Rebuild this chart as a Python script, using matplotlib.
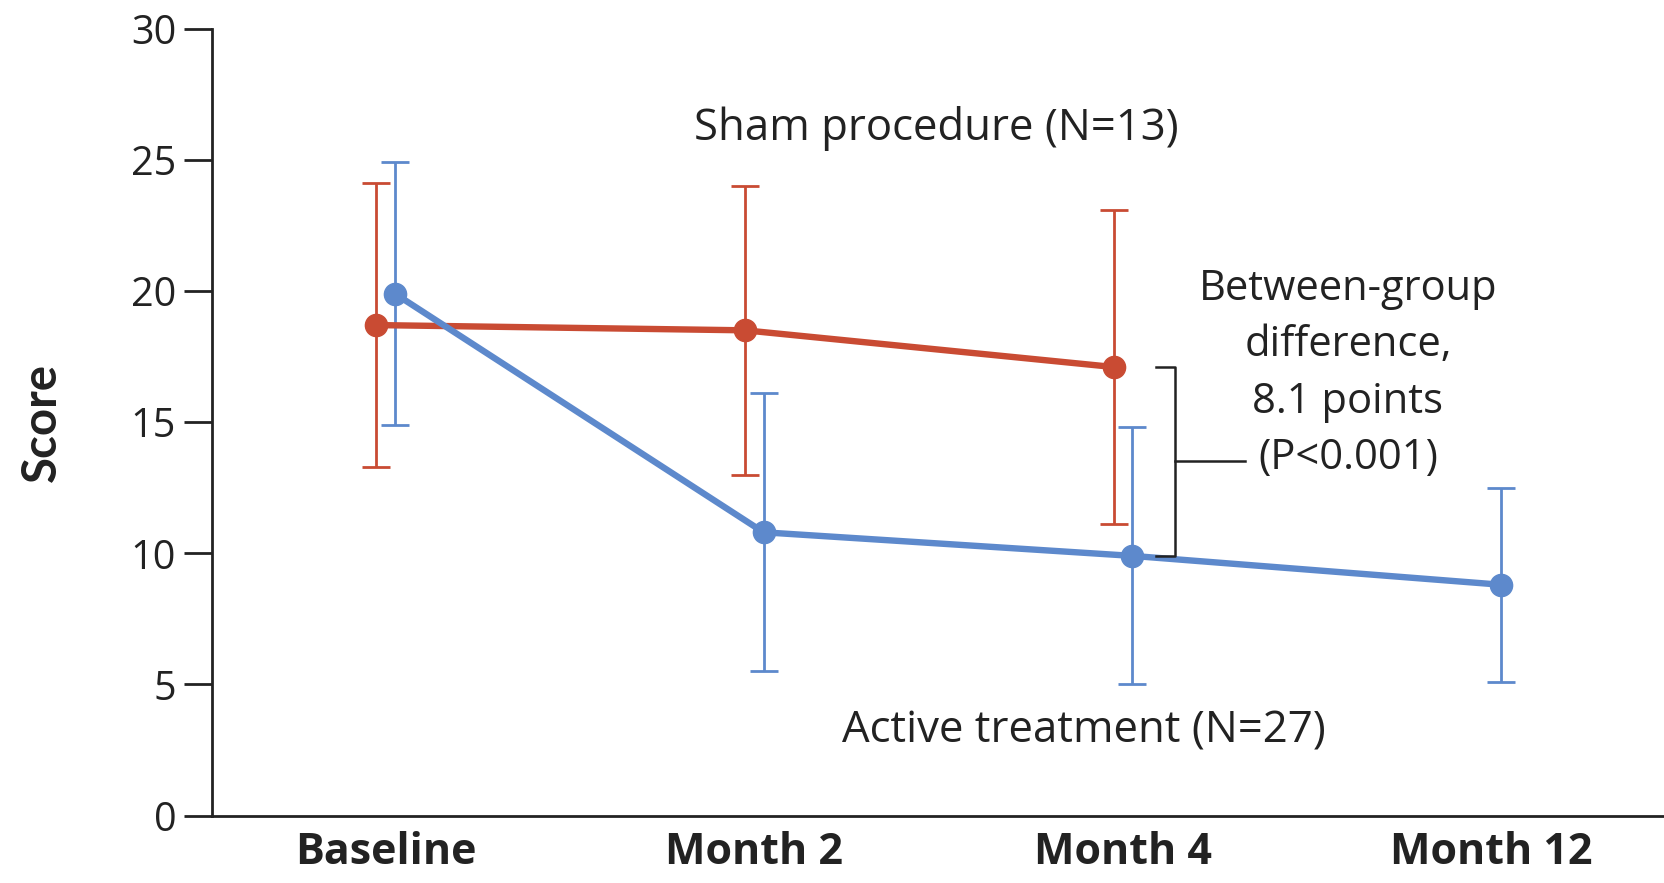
import matplotlib.pyplot as plt

# Mean score with 95% CI bounds at each visit
visits = ["Baseline", "Month 2", "Month 4", "Month 12"]

sham_mean = [18.7, 18.5, 17.1]
sham_upper = [24.1, 24.0, 23.1]
sham_lower = [13.3, 13.0, 11.1]

active_mean = [19.9, 10.8, 9.9, 8.8]
active_upper = [24.9, 16.1, 14.8, 12.5]
active_lower = [14.9, 5.5, 5.0, 5.1]

red = "#C94B33"
blue = "#5D89CC"
ink = "#222222"

plt.rcParams['font.family'] = ['Open Sans', 'DejaVu Sans']

fig = plt.figure(figsize=(16.65, 8.83), dpi=100)
ax = fig.add_axes([0.1275, 0.0764, 0.8725, 0.8911])

def draw_series(means, lower, upper, color, shift):
    xs = [i + shift for i in range(len(means))]
    yerr = [[m - lo for m, lo in zip(means, lower)],
            [hi - m for m, hi in zip(means, upper)]]
    ax.errorbar(xs, means, yerr=yerr, fmt='none', ecolor=color,
                elinewidth=2.0, capsize=10, capthick=2.0, zorder=2)
    ax.plot(xs, means, color=color, lw=4.6, marker='o', markersize=16,
            solid_capstyle='round', zorder=3)

draw_series(sham_mean, sham_lower, sham_upper, red, -0.025)
draw_series(active_mean, active_lower, active_upper, blue, 0.025)

# bracket for the between-group difference at month 4
bx = 2.14
top, bot = sham_mean[2], active_mean[2]
ax.plot([bx - 0.05, bx, bx, bx - 0.05], [top, top, bot, bot],
        color=ink, lw=1.8, zorder=4)
ax.plot([bx, bx + 0.19], [13.5, 13.5], color=ink, lw=1.8, zorder=4)

ax.text(1.495, 26.2, "Sham procedure (N=13)", fontsize=31.5, color=ink,
        ha='center', va='center')
ax.text(1.895, 3.2, "Active treatment (N=27)", fontsize=31.5, color=ink,
        ha='center', va='center')
ax.text(2.61, 16.85, "Between-group\ndifference,\n8.1 points\n(P<0.001)",
        fontsize=30, color=ink, ha='center', va='center',
        linespacing=1.45)

ax.set_xlim(-0.47, 3.47)
ax.set_ylim(0, 30)
ax.set_yticks(range(0, 31, 5))
ax.set_xticks(range(len(visits)))
ax.set_xticklabels(visits, fontsize=31, fontweight='bold', color=ink)
ax.tick_params(axis='y', labelsize=28.5, length=20, width=2, pad=6,
               colors=ink)
ax.tick_params(axis='x', length=0, pad=11)
ax.set_ylabel("Score", fontsize=34, fontweight='bold', color=ink,
              family=['Lato', 'DejaVu Sans'], labelpad=48)

for side in ['top', 'right']:
    ax.spines[side].set_visible(False)
for side in ['left', 'bottom']:
    ax.spines[side].set_linewidth(2)
    ax.spines[side].set_color(ink)

fig.savefig("out.png", dpi=100)
